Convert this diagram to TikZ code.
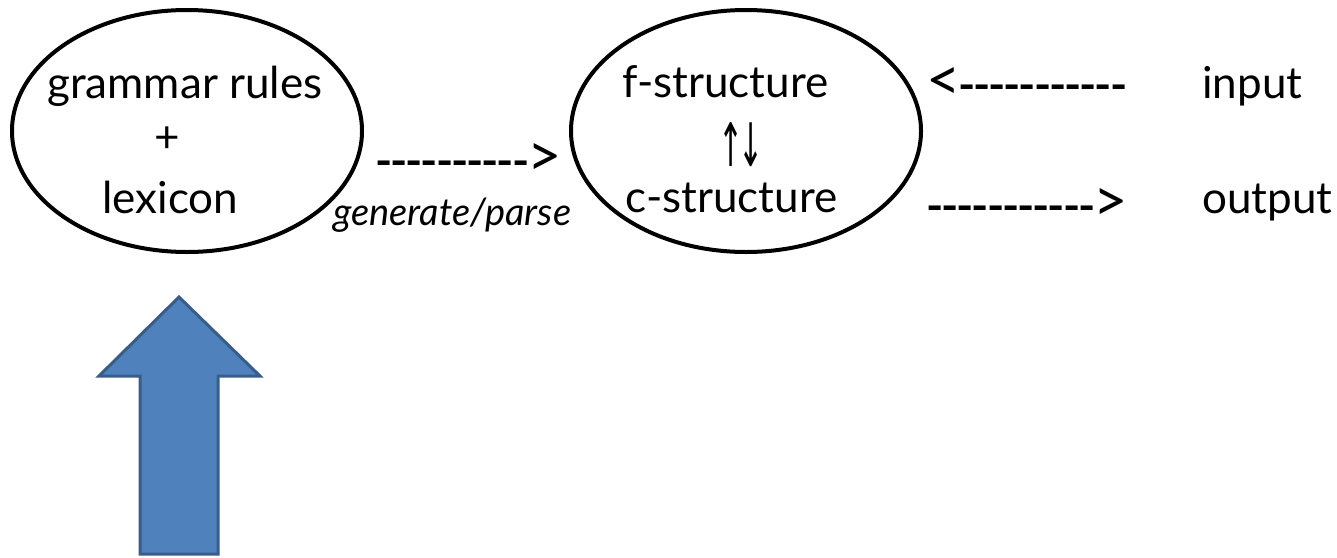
\documentclass[tikz,border=0pt]{standalone}
\usepackage{fontspec}
\usepackage{graphicx}
\setmainfont{Lato}
\newfontfamily\arrowfont{DejaVu Sans}
\usetikzlibrary{shapes.geometric}
\definecolor{arrowfill}{HTML}{4F81BD}
\definecolor{arrowline}{HTML}{385D8A}
\newcommand\onedash{\makebox[11.4pt][l]{\scalebox{1.05}[1]{\textbf{-}}}}
\newcommand\dashrun[1]{\foreach \i in {1,...,#1}{\onedash}}
\newcommand\lchev{\scalebox{1.35}{<}\kern-2pt}
\newcommand\rchev{\kern0pt\scalebox{1.35}{>}}
\tikzset{
  oval/.style={draw=black, line width=3pt, ellipse, minimum width=262.5pt, minimum height=181.5pt, inner sep=0pt},
  txt/.style={inner sep=0pt, anchor=base west, font=\fontsize{33}{40}\selectfont},
  itxt/.style={inner sep=0pt, anchor=base west, font=\fontsize{28.5}{34}\selectfont\itshape},
  blockarrow/.style={fill=arrowfill, draw=arrowline, line width=2.25pt, line join=miter}
}
\begin{document}
\begin{tikzpicture}[x=0.75pt, y=-0.75pt]
\useasboundingbox (0,0) rectangle (1337,557);
% ovals
\node[oval] (lex) at (187,131) {};
\node[oval] (struct) at (746,131) {};
% texts in left oval
\node[txt] (gr) at (47,98) {grammar rules};
\node[txt, anchor=center] (plus) at (167,140) {+};
\node[txt] (lx) at (102,213) {lexicon};
% texts in right oval
\node[txt] (fs) at (622,97) {f-structure};
\node[inner sep=0pt, anchor=center, font=\fontsize{30}{36}\arrowfont] (ud) at (741,145) {\scalebox{0.75}[1.5]{↑\kern-5pt↓}};
\node[txt] (cs) at (625,212) {c-structure};
% dashed text arrows
\node[txt] (gp) at (375,176) {\dashrun{10}\rchev};
\node[itxt] (gen) at (333,225) {generate/parse};
\node[txt] (inarr) at (926,100) {\lchev\dashrun{11}};
\node[txt] (outarr) at (926,221) {\dashrun{11}\rchev};
\node[txt] (in) at (1202,98) {input};
\node[txt] (out) at (1202,213) {output};
% block arrow
\draw[blockarrow] (179,297) -- (260,376) -- (218,376) -- (218,554) -- (140,554) -- (140,376) -- (99,376) -- cycle;
\end{tikzpicture}
\end{document}
